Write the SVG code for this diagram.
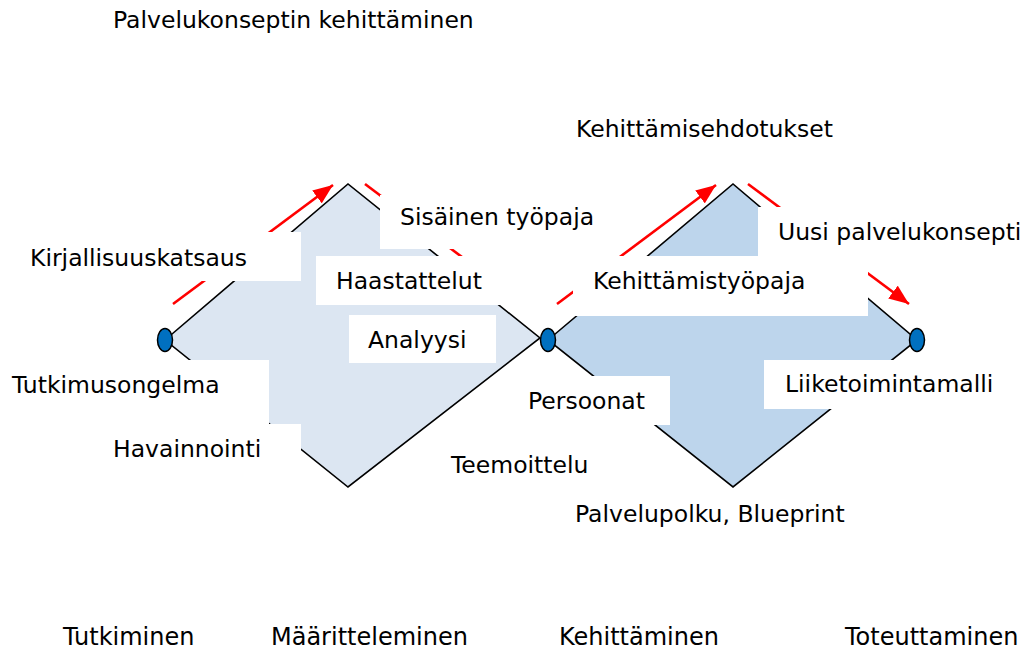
<svg xmlns="http://www.w3.org/2000/svg" width="1027" height="651" viewBox="0 0 1027 651">
<defs>
<style>
text{font-family:"DejaVu Sans","Liberation Sans",sans-serif;font-size:23.5px;fill:#000}
.phase{font-size:24px}
.edge{stroke:#000;stroke-width:1.6;stroke-linejoin:miter}
.arrow{stroke:#ff0000;stroke-width:2.6;fill:none}
.box{fill:#fff;stroke:none}
.node{fill:#0070c0;stroke:#000;stroke-width:1.5}
</style>
<marker id="ahb" viewBox="0 0 20 16" refX="20" refY="8" markerWidth="20" markerHeight="16" markerUnits="userSpaceOnUse" orient="auto">
<path d="M0,0 L20,8 L0,16 z" fill="#ff0000"/>
</marker>
</defs>
<rect width="1027" height="651" fill="#fff"/>

<g id="diamond-left">
<polygon class="edge" points="165,340 348,184 540,338 348,487" fill="#dce6f2"/>
</g>
<g id="diamond-right">
<polygon class="edge" points="548,340 733,184 917,340 733,487" fill="#bdd5ec"/>
</g>

<g id="connectors">
<line class="arrow" x1="173" y1="304" x2="333" y2="185" marker-end="url(#ahb)"/>
<line class="arrow" x1="365" y1="184" x2="523" y2="303" marker-end="url(#ahb)"/>
<line class="arrow" x1="557" y1="304" x2="716" y2="185" marker-end="url(#ahb)"/>
<line class="arrow" x1="748" y1="184" x2="909" y2="304" marker-end="url(#ahb)"/>
</g>

<g id="label-title"><text x="113" y="28">Palvelukonseptin kehittäminen</text></g>
<g id="label-kehittamisehdotukset"><text x="576" y="137">Kehittämisehdotukset</text></g>

<g id="label-sisainen"><rect class="box" x="380" y="195" width="228" height="54"/><text x="400" y="225">Sisäinen työpaja</text></g>
<g id="label-uusi"><rect class="box" x="758" y="207" width="269" height="49"/><text x="778" y="240">Uusi palvelukonsepti</text></g>
<g id="label-kirjallisuus"><rect class="box" x="18" y="232" width="283" height="49"/><text x="30" y="266">Kirjallisuuskatsaus</text></g>
<g id="label-haastattelut"><rect class="box" x="316" y="256" width="212" height="49"/><text x="336" y="289">Haastattelut</text></g>
<g id="label-kehittamistyopaja"><rect class="box" x="573" y="256" width="295" height="60"/><text x="593" y="289">Kehittämistyöpaja</text></g>
<g id="label-analyysi"><rect class="box" x="349" y="315" width="147" height="48"/><text x="368" y="348">Analyysi</text></g>
<g id="label-tutkimusongelma"><rect class="box" x="0" y="360" width="269" height="65"/><text x="12" y="393">Tutkimusongelma</text></g>
<g id="label-havainnointi"><rect class="box" x="100" y="424" width="201" height="46"/><text x="113" y="457">Havainnointi</text></g>
<g id="label-liiketoimintamalli"><rect class="box" x="764" y="360" width="263" height="49"/><text x="785" y="392">Liiketoimintamalli</text></g>
<g id="label-persoonat"><rect class="box" x="518" y="376" width="152" height="49"/><text x="528" y="409">Persoonat</text></g>
<g id="label-teemoittelu"><text x="451" y="473">Teemoittelu</text></g>
<g id="label-palvelupolku"><text x="575" y="522">Palvelupolku, Blueprint</text></g>

<g id="node-start"><ellipse class="node" cx="165" cy="340" rx="7.5" ry="11.5"/></g>
<g id="node-middle"><ellipse class="node" cx="548" cy="340" rx="7.5" ry="11.5"/></g>
<g id="node-end"><ellipse class="node" cx="917" cy="340" rx="7.5" ry="11.5"/></g>

<g id="phase-labels">
<text class="phase" x="63" y="645">Tutkiminen</text>
<text class="phase" x="271" y="645">Määritteleminen</text>
<text class="phase" x="559" y="645">Kehittäminen</text>
<text class="phase" x="845" y="645">Toteuttaminen</text>
</g>
</svg>
